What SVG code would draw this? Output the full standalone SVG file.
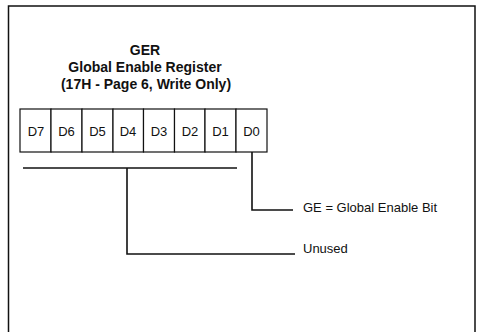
<svg xmlns="http://www.w3.org/2000/svg" width="480" height="332" viewBox="0 0 480 332">
<style>
.frame{fill:none;stroke:#111;stroke-width:1.5}
.box{fill:#fff;stroke:#111;stroke-width:1.2}
.ln{fill:none;stroke:#111;stroke-width:1.6}
.t{font-family:"Liberation Sans",Arial,sans-serif;font-size:14px;font-weight:bold;fill:#111;text-anchor:middle}
.b{font-family:"Liberation Sans",Arial,sans-serif;font-size:13px;fill:#111;text-anchor:middle}
.l{font-family:"Liberation Sans",Arial,sans-serif;font-size:13px;fill:#111}
</style>
<rect width="480" height="332" fill="#fff"/>
<path class="frame" d="M8.5 333 V6 H475 V333"/>
<g id="title">
<text class="t" x="145" y="55">GER</text>
<text class="t" x="145" y="72">Global Enable Register</text>
<text class="t" x="146" y="89">(17H - Page 6, Write Only)</text>
</g>
<g id="register">
<rect class="box" x="20" y="109" width="31" height="43"/>
<rect class="box" x="51" y="109" width="31" height="43"/>
<rect class="box" x="82" y="109" width="31" height="43"/>
<rect class="box" x="113" y="109" width="30.5" height="43"/>
<rect class="box" x="143.5" y="109" width="31" height="43"/>
<rect class="box" x="174.5" y="109" width="30.5" height="43"/>
<rect class="box" x="205" y="109" width="31" height="43"/>
<rect class="box" x="236" y="109" width="31" height="43"/>
<text class="b" x="36" y="136">D7</text>
<text class="b" x="66.5" y="136">D6</text>
<text class="b" x="97.5" y="136">D5</text>
<text class="b" x="128" y="136">D4</text>
<text class="b" x="159" y="136">D3</text>
<text class="b" x="190" y="136">D2</text>
<text class="b" x="220.5" y="136">D1</text>
<text class="b" x="251.5" y="136">D0</text>
</g>
<g id="connectors">
<path class="ln" d="M23 168 H237"/>
<path class="ln" d="M127 168 V254 H295"/>
<path class="ln" d="M252 152 V210 H293"/>
</g>
<g id="label-ge">
<text class="l" x="303" y="212">GE = Global Enable Bit</text>
</g>
<g id="label-unused">
<text class="l" x="303" y="253">Unused</text>
</g>
</svg>
